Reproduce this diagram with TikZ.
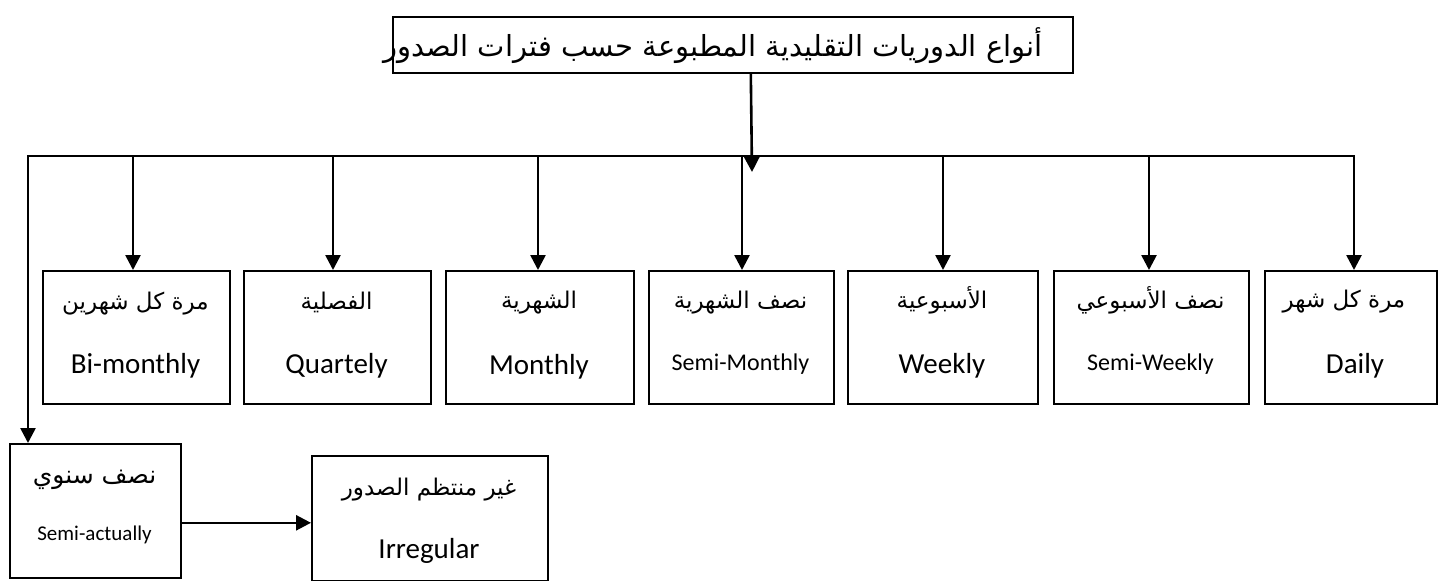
\documentclass[tikz,border=0pt]{standalone}
\usepackage{fontspec}
\setmainfont{Carlito}
\newfontfamily\arabicfont[Script=Arabic]{DejaVu Sans}
\TeXXeTstate=1
\usetikzlibrary{arrows.meta}
\newcommand\artext[1]{{\arabicfont\beginR #1\endR}}

\begin{document}
\begin{tikzpicture}[x=1pt,y=-1pt,
  pbox/.style={draw, line width=1.6pt, inner sep=0pt, anchor=north west},
  link/.style={line width=2.6pt, -{Triangle[length=15pt,width=15pt]}},
  both/.style={line width=2.6pt, {Triangle[length=15pt,width=15pt]}-{Triangle[length=15pt,width=15pt]}},
  artitle/.style={anchor=base, inner sep=0pt, font=\arabicfont\fontsize{29}{34}\selectfont},
  ar/.style={anchor=base, inner sep=0pt, font=\arabicfont\fontsize{23}{27}\selectfont},
  arlg/.style={anchor=base, inner sep=0pt, font=\arabicfont\fontsize{25}{29}\selectfont},
  en/.style={anchor=base, inner sep=0pt, font=\fontsize{29}{34}\selectfont},
  ensm/.style={anchor=base, inner sep=0pt, font=\fontsize{24}{28}\selectfont},
  enxs/.style={anchor=base, inner sep=0pt, font=\fontsize{21}{25}\selectfont}]

\useasboundingbox (0,0) rectangle (1438,581);

% title
\node[pbox, minimum width=680pt, minimum height=56pt] (title) at (392,16) {};
\node[artitle] (title-t) at (713,56) {\artext{أنواع الدوريات التقليدية المطبوعة حسب فترات الصدور}};

% first row of boxes
\node[pbox, minimum width=187pt, minimum height=133pt] (bm) at (42,270) {};
\node[pbox, minimum width=187pt, minimum height=133pt] (qu) at (243,270) {};
\node[pbox, minimum width=188pt, minimum height=133pt] (mo) at (445,270) {};
\node[pbox, minimum width=185pt, minimum height=133pt] (sm) at (648,270) {};
\node[pbox, minimum width=190pt, minimum height=133pt] (wk) at (847,270) {};
\node[pbox, minimum width=195pt, minimum height=133pt] (sw) at (1053,270) {};
\node[pbox, minimum width=172pt, minimum height=133pt] (dl) at (1264,270) {};

\node[ar] at (135.5,309) {\artext{مرة كل شهرين}};
\node[en] at (135.5,373) {Bi-monthly};
\node[ar] at (336.5,309) {\artext{الفصلية}};
\node[en] at (336.5,373) {Quartely};
\node[ar] at (539,308) {\artext{الشهرية}};
\node[en] at (539,374) {Monthly};
\node[ar] at (740.5,308) {\artext{نصف الشهرية}};
\node[ensm] at (740.5,370) {Semi-Monthly};
\node[ar] at (942,308) {\artext{الأسبوعية}};
\node[en] at (942,373) {Weekly};
\node[ar] at (1150.5,308) {\artext{نصف الأسبوعي}};
\node[ensm] at (1150.5,370) {Semi-Weekly};
\node[ar] at (1344,307) {\artext{مرة كل شهر}};
\node[en] at (1355,373) {Daily};

% second row
\node[pbox, minimum width=171pt, minimum height=134pt] (sa) at (9,443) {};
\node[pbox, minimum width=236pt, minimum height=125pt] (ir) at (311,455) {};
\node[arlg] at (94.5,483) {\artext{نصف سنوي}};
\node[enxs] at (94.5,540) {Semi-actually};
\node[ar] at (429,495) {\artext{غير منتظم الصدور}};
\node[en] at (429,558) {Irregular};

% distribution bus
\coordinate (busL) at (28,156);
\coordinate (d1) at (133,156);
\coordinate (d2) at (333,156);
\coordinate (d3) at (538,156);
\coordinate (d4) at (742,156);
\coordinate (d5) at (943,156);
\coordinate (d6) at (1149,156);
\coordinate (busR) at (1354,156);
\coordinate (tip) at (752,172);

\draw[link] ([xshift=18pt]title.south) -- (tip);
\draw[both] (busR |- dl.north) -- (busR) -- (busL) -- (busL |- sa.north);
\draw[link] (d1) -- (d1 |- bm.north);
\draw[link] (d2) -- (d2 |- qu.north);
\draw[link] (d3) -- (d3 |- mo.north);
\draw[link] (d4) -- (d4 |- sm.north);
\draw[link] (d5) -- (d5 |- wk.north);
\draw[link] (d6) -- (d6 |- sw.north);
\draw[link] ([yshift=-12pt]sa.east) -- ([yshift=-12pt]sa.east -| ir.west);
\end{tikzpicture}
\end{document}
